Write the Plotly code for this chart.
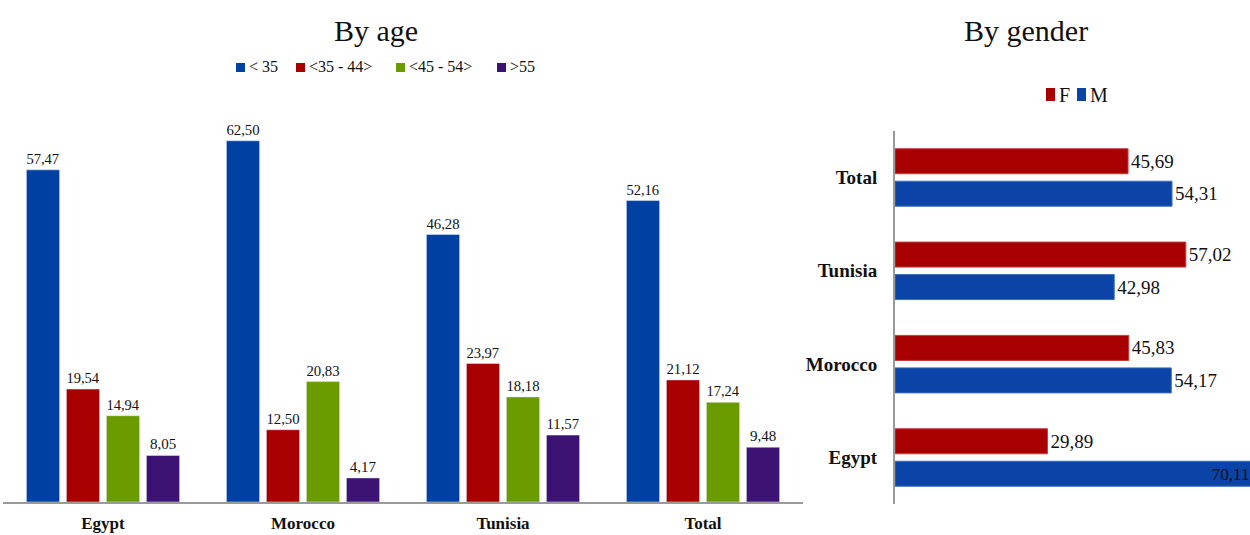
import plotly.graph_objects as go

countries = ["Egypt", "Morocco", "Tunisia", "Total"]
age_groups = ["< 35", "<35 - 44>", "<45 - 54>", ">55"]
age_values = [
    [57.47, 62.50, 46.28, 52.16],
    [19.54, 12.50, 23.97, 21.12],
    [14.94, 20.83, 18.18, 17.24],
    [8.05, 4.17, 11.57, 9.48],
]
age_colors = ["#0040A2", "#A80000", "#6A9C00", "#3C1272"]

gender_cats = ["Egypt", "Morocco", "Tunisia", "Total"]
genders = ["F", "M"]
female = [29.89, 45.83, 57.02, 45.69]
male = [70.11, 54.17, 42.98, 54.31]
gender_colors = ["#A80000", "#0B44A6"]

SERIF = "Liberation Serif, Times New Roman, serif"
W, H = 1250, 535


def fmt(v):
    return f"{v:.2f}".replace(".", ",")


def px(x):
    return x / W


def py(y):
    return (H - y) / H


fig = go.Figure()

for name, vals, col in zip(age_groups, age_values, age_colors):
    fig.add_trace(go.Bar(
        x=countries, y=vals, name=name, marker_color=col,
        text=[fmt(v) for v in vals], textposition="outside",
        textfont=dict(family=SERIF, size=15, color="#111"),
        cliponaxis=False, xaxis="x", yaxis="y",
    ))

# horizontal bars: F on top, M below within each category
bw = 0.268
fig.add_trace(go.Bar(
    y=gender_cats, x=male, name="M", orientation="h", marker_color=gender_colors[1],
    marker_line=dict(color="#3a6fc0", width=1),
    width=bw, offset=-0.174 - bw / 2,
    text=[fmt(v) for v in male],
    textposition=["inside", "outside", "outside", "outside"],
    insidetextanchor="end",
    textfont=dict(family=SERIF, size=19, color="#111"),
    xaxis="x2", yaxis="y2",
))
fig.add_trace(go.Bar(
    y=gender_cats, x=female, name="F", orientation="h", marker_color=gender_colors[0],
    marker_line=dict(color="#c04040", width=1),
    width=bw, offset=0.174 - bw / 2,
    text=[fmt(v) for v in female], textposition="outside",
    textfont=dict(family=SERIF, size=19, color="#111"),
    xaxis="x2", yaxis="y2",
))

# custom legends (squares + labels), placed like the reference
shapes = []
annotations = []
age_leg_x = [236, 296, 396, 497]
for xs, name, col in zip(age_leg_x, age_groups, age_colors):
    shapes.append(dict(type="rect", xref="paper", yref="paper",
                       x0=px(xs), x1=px(xs + 9), y0=py(72), y1=py(63),
                       fillcolor=col, line=dict(width=0)))
    annotations.append(dict(text=name, x=px(xs + 11), y=py(67), xref="paper", yref="paper",
                            xanchor="left", yanchor="middle", showarrow=False,
                            font=dict(family=SERIF, size=16, color="#111")))
g_leg_x = [1046, 1077]
for xs, name, col in zip(g_leg_x, genders, gender_colors):
    shapes.append(dict(type="rect", xref="paper", yref="paper",
                       x0=px(xs), x1=px(xs + 9), y0=py(101), y1=py(88),
                       fillcolor=col, line=dict(width=0)))
    annotations.append(dict(text=name, x=px(xs + 11), y=py(95), xref="paper", yref="paper",
                            xanchor="left", yanchor="middle", showarrow=False,
                            font=dict(family=SERIF, size=20, color="#111")))

annotations += [
    dict(text="By age", x=px(376), y=py(30), xref="paper", yref="paper",
         xanchor="center", yanchor="middle", showarrow=False,
         font=dict(family=SERIF, size=30, color="#111")),
    dict(text="By gender", x=px(1026), y=py(30), xref="paper", yref="paper",
         xanchor="center", yanchor="middle", showarrow=False,
         font=dict(family=SERIF, size=30, color="#111")),
]

fig.update_layout(
    width=W, height=H,
    margin=dict(l=0, r=0, t=0, b=0),
    paper_bgcolor="white", plot_bgcolor="white",
    font=dict(family=SERIF, color="#111"),
    barmode="group", bargap=0.2, bargroupgap=0.17,
    showlegend=False,
    xaxis=dict(domain=[0.0024, 0.6424], showline=True, linecolor="#9a9a9a", linewidth=2,
               ticks="", showgrid=False, zeroline=False, automargin=False,
               tickmode="array", tickvals=countries,
               ticktext=[f"<b>{c}</b>" for c in countries],
               tickfont=dict(family=SERIF, size=17, color="#111"),
               ticklabelstandoff=5),
    yaxis=dict(domain=[0.0617, 0.813], range=[0, 69.55], visible=False),
    xaxis2=dict(domain=[0.716, 1.0], range=[0, 69.6], visible=False, anchor="y2"),
    yaxis2=dict(domain=[0.0576, 0.7555], range=[-0.5, 3.5], anchor="x2", showline=True,
                linecolor="#9a9a9a", linewidth=2, ticks="", showgrid=False, zeroline=False,
                automargin=False, type="category",
                tickmode="array", tickvals=gender_cats,
                ticktext=[f"<b>{c}</b>" for c in gender_cats],
                tickfont=dict(family=SERIF, size=19, color="#111"),
                ticklabelstandoff=12),
    shapes=shapes,
    annotations=annotations,
)

fig.write_html("out.html", post_script="document.body.style.margin='0px';",
               config={"displayModeBar": False})
